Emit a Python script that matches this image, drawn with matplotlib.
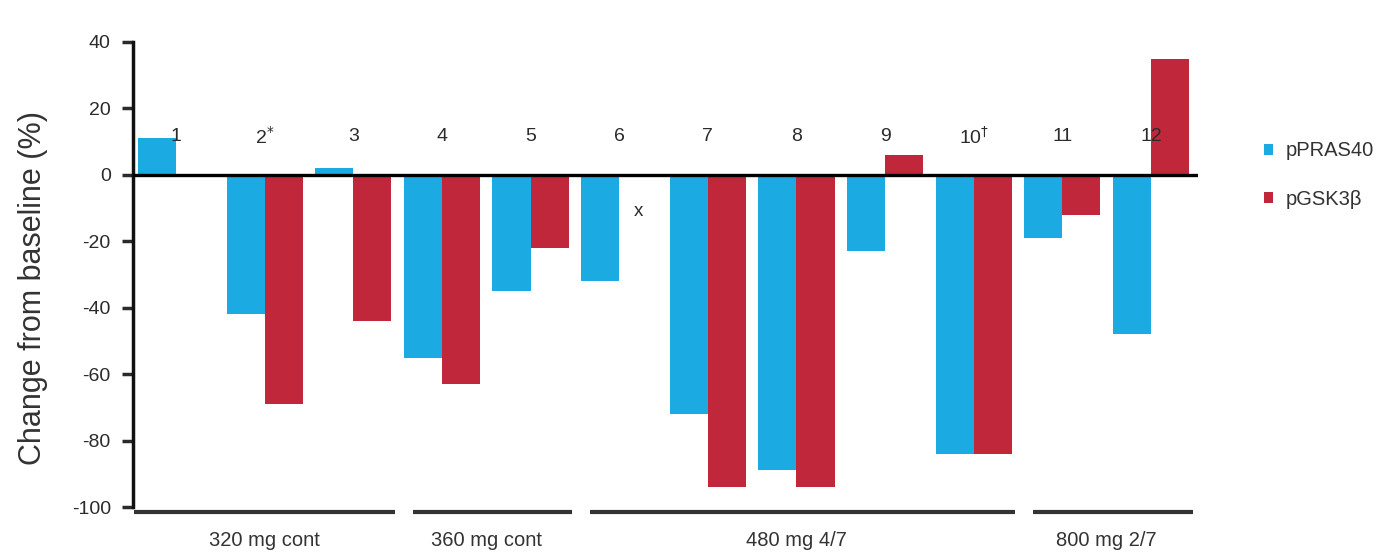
import matplotlib
matplotlib.use("Agg")
import matplotlib.pyplot as plt
import numpy as np

plt.rcParams['font.family'] = ['Liberation Sans', 'DejaVu Sans']
plt.rcParams['axes.unicode_minus'] = False

patients = ["1", "2$^{*}$", "3", "4", "5", "6", "7", "8", "9", "10$^{\\dagger}$", "11", "12"]
ppras40 = [11, -42, 2, -55, -35, -32, -72, -89, -23, -84, -19, -48]
pgsk3b = [None, -69, -44, -63, -22, None, -94, -94, 6, -84, -12, 35]
missing_label = {6: "x"}  # patient 6: no pGSK3β value
dose_groups = ["320 mg cont", "360 mg cont", "480 mg 4/7", "800 mg 2/7"]
group_ranges = [(1, 3), (4, 5), (6, 10), (11, 12)]

blue = "#1BAAE2"
red = "#C1273A"
text_col = "#2b2b2b"

fig = plt.figure(figsize=(13.91, 5.53), dpi=100)
ax = fig.add_axes([133/1391, 1 - 507/553, (1198 - 133)/1391, (507 - 42)/553])

x = np.arange(1, len(patients) + 1)
w = 0.43
ax.bar(x - w/2, ppras40, width=w, color=blue, label="pPRAS40", zorder=2)
red_x = [xi + w/2 for xi, v in zip(x, pgsk3b) if v is not None]
red_v = [v for v in pgsk3b if v is not None]
ax.bar(red_x, red_v, width=w, color=red, label="pGSK3\u03b2", zorder=2)

for xi, lab in zip(x, patients):
    ax.text(xi, 11.5, lab, ha="center", va="center", fontsize=14, color=text_col, zorder=4)
for p, lab in missing_label.items():
    ax.text(p + w/2, -11, lab, ha="center", va="center", fontsize=13.5, color=text_col, zorder=4)

ax.axhline(0, color="black", lw=2.4, zorder=3)

ax.set_xlim(0.515, 12.53)
ax.set_ylim(-100, 40)
ax.set_yticks([40, 20, 0, -20, -40, -60, -80, -100])
ax.tick_params(axis="y", direction="out", length=8, width=2.5, labelsize=14, pad=8,
               colors=text_col)
ax.set_xticks([])
for s in ["top", "right", "bottom"]:
    ax.spines[s].set_visible(False)
ax.spines["left"].set_linewidth(2.5)
ax.spines["left"].set_color("#111111")
ax.set_ylabel("Change from baseline (%)", fontsize=22, color="#333333")
ax.yaxis.set_label_coords(-0.08, 0.47)

# dose group brackets under the bars
for i, ((a, b), name) in enumerate(zip(group_ranges, dose_groups)):
    start = a - w - 0.04 if i == 0 else a - 0.33
    ax.plot([start, b + 0.47], [-101.5, -101.5], color="#333333", lw=3,
            clip_on=False, solid_capstyle="butt")
    ax.text((a + b) / 2, -110, name, ha="center", va="center", fontsize=14.5,
            color="#333333", clip_on=False)

leg = ax.legend(loc="upper left", bbox_to_anchor=(1.045, 0.825), frameon=False,
                fontsize=14.5, handlelength=0.45, handleheight=0.45, handletextpad=0.6,
                labelspacing=1.45)
for t in leg.get_texts():
    t.set_color("#333333")

fig.savefig("out.png", dpi=100)
